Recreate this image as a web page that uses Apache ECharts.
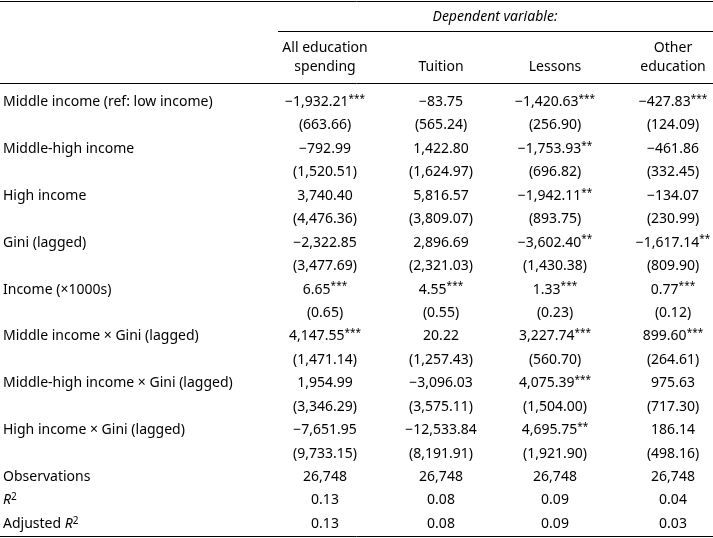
<!DOCTYPE html>
<html><head><meta charset="utf-8">
<script src="https://cdn.jsdelivr.net/npm/echarts@6/dist/echarts.min.js"></script>
<style>html,body{margin:0;padding:0;background:#fff}#c{width:713px;height:538px}</style>
</head><body><div id="c"></div>
<script>
const headerTitle = "Dependent variable:";
const columns = [["All education","spending"],["Tuition"],["Lessons"],["Other","education"]];
const rowLabels = ["Middle income (ref: low income)","","Middle-high income","","High income","","Gini (lagged)","","Income (×1000s)","","Middle income × Gini (lagged)","","Middle-high income × Gini (lagged)","","High income × Gini (lagged)","","Observations","R2","Adjusted R2"];
const col1 = ["−1,932.21***","(663.66)","−792.99","(1,520.51)","3,740.40","(4,476.36)","−2,322.85","(3,477.69)","6.65***","(0.65)","4,147.55***","(1,471.14)","1,954.99","(3,346.29)","−7,651.95","(9,733.15)","26,748","0.13","0.13"];
const col2 = ["−83.75","(565.24)","1,422.80","(1,624.97)","5,816.57","(3,809.07)","2,896.69","(2,321.03)","4.55***","(0.55)","20.22","(1,257.43)","−3,096.03","(3,575.11)","−12,533.84","(8,191.91)","26,748","0.08","0.08"];
const col3 = ["−1,420.63***","(256.90)","−1,753.93**","(696.82)","−1,942.11**","(893.75)","−3,602.40**","(1,430.38)","1.33***","(0.23)","3,227.74***","(560.70)","4,075.39***","(1,504.00)","4,695.75**","(1,921.90)","26,748","0.09","0.09"];
const col4 = ["−427.83***","(124.09)","−461.86","(332.45)","−134.07","(230.99)","−1,617.14**","(809.90)","0.77***","(0.12)","899.60***","(264.61)","975.63","(717.30)","186.14","(498.16)","26,748","0.04","0.03"];
const cols = [col1,col2,col3,col4];

const colX = [325,441,555,673];
const rowY0 = 102, rowH = 23.44;
const font = '"Noto Sans", "DejaVu Sans", sans-serif';
const rich = {
  n:{fontSize:14,fontFamily:font,fill:'#000'},
  s:{fontSize:10,fontFamily:font,fill:'#000',verticalAlign:'top',padding:[0,0,6,0]},
  i:{fontSize:14,fontFamily:font,fontStyle:'italic',fill:'#000'}
};
function fmtVal(v){
  const m = v.match(/^(.*?)(\**)$/);
  return '{n|'+m[1]+'}'+(m[2]?'{s|'+m[2]+'}':'');
}
function fmtLabel(l){
  if(l==='R2') return '{i|R}{s|2}';
  if(l==='Adjusted R2') return '{n|Adjusted }{i|R}{s|2}';
  return '{n|'+l+'}';
}
const els = [];
const line=(x1,y,x2)=>els.push({type:'line',shape:{x1,y1:y,x2,y2:y},style:{stroke:'#000',lineWidth:1}});
line(0,1.5,713); line(278,31.5,713); line(0,83.5,713); line(0,536.5,713);
els.push({type:'text',x:495,y:17,style:{text:headerTitle,font:'italic 14px '+font,fill:'#000',align:'center',verticalAlign:'middle'}});
columns.forEach((c,i)=>{
  const lines=c.length;
  c.forEach((t,j)=>{
    const y = lines===2 ? 48+j*19 : 67;
    els.push({type:'text',x:colX[i],y,style:{text:t,font:'14px '+font,fill:'#000',align:'center',verticalAlign:'middle'}});
  });
});
rowLabels.forEach((l,r)=>{
  const y=rowY0+r*rowH;
  if(l) els.push({type:'text',x:3,y,style:{text:fmtLabel(l),rich,align:'left',verticalAlign:'middle'}});
  cols.forEach((c,i)=>{
    els.push({type:'text',x:colX[i],y,style:{text:fmtVal(c[r]),rich,align:'center',verticalAlign:'middle'}});
  });
});
const chart=echarts.init(document.getElementById('c'));
chart.setOption({animation:false,graphic:{elements:els}});
</script></body></html>
